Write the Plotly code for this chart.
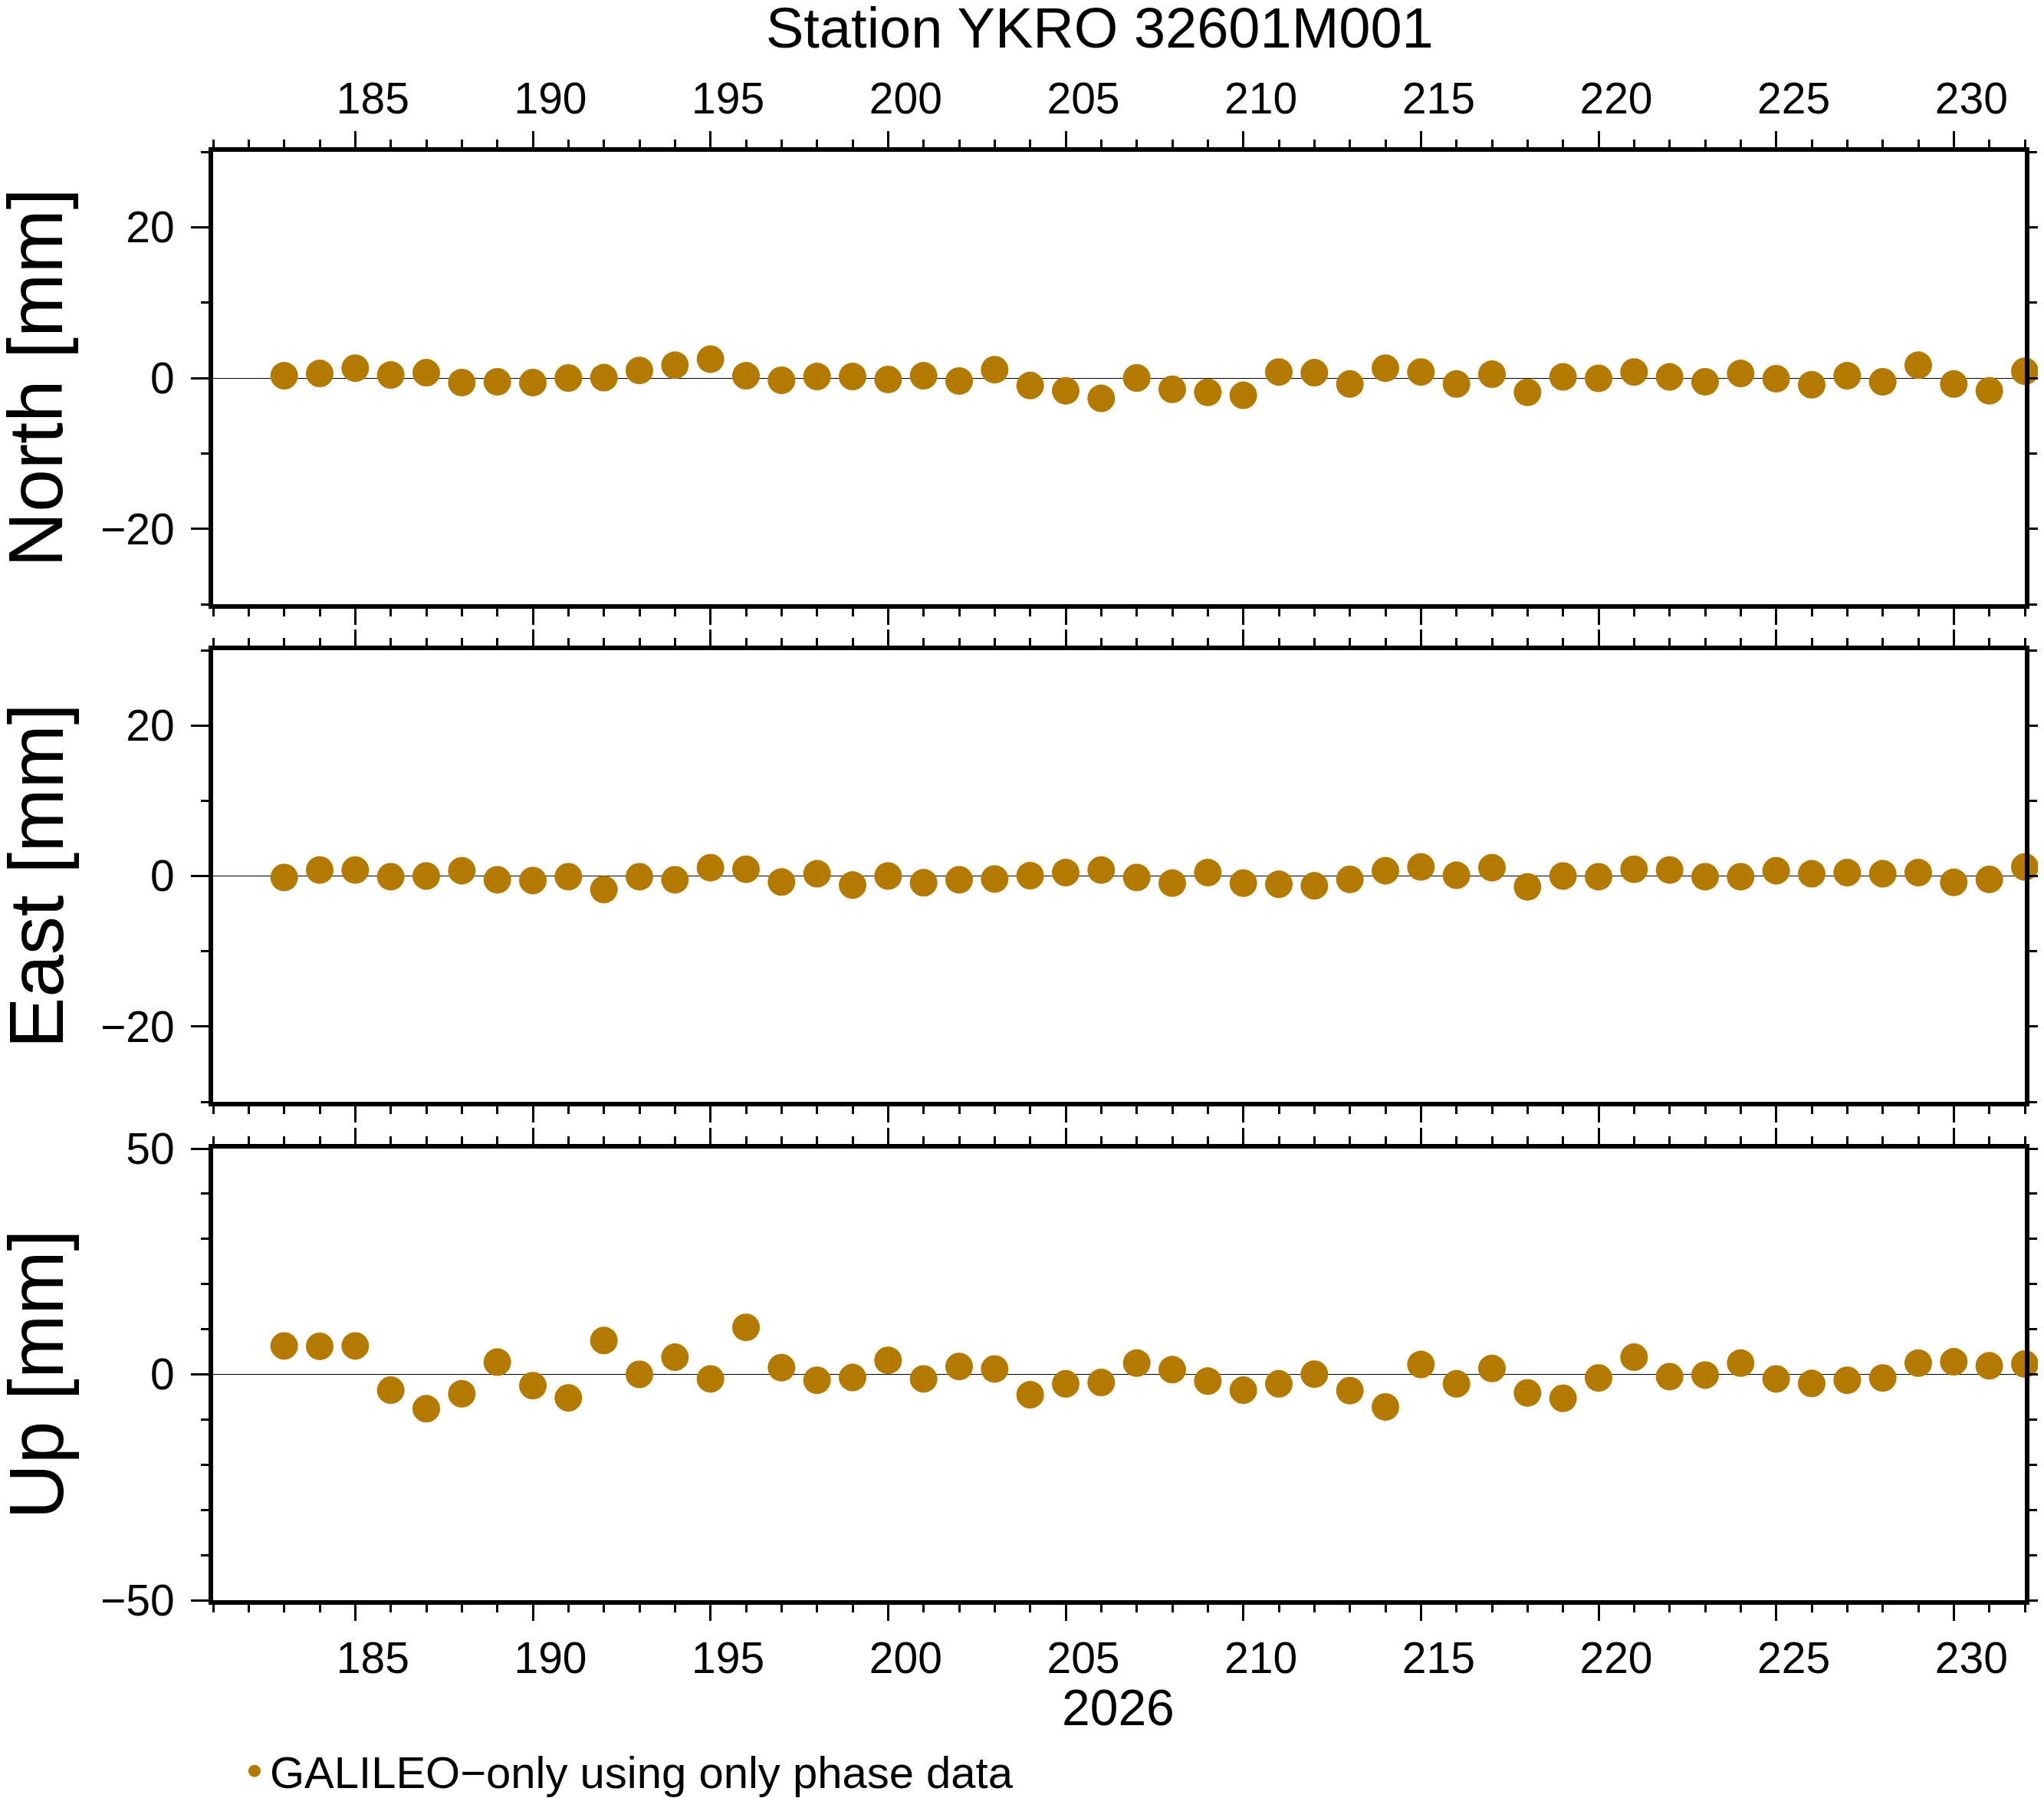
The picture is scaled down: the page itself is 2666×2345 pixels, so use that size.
import plotly.graph_objects as go

# day of year 2026, one daily solution each
days = list(range(183, 233))

north_mm = [0.3, 0.6, 1.3, 0.4, 0.7, -0.6, -0.5, -0.6, 0.0, 0.05,
            1.0, 1.7, 2.5, 0.3, -0.3, 0.2, 0.2, -0.2, 0.3, -0.4,
            1.1, -1.0, -1.7, -2.7, 0.0, -1.5, -1.9, -2.3, 0.8, 0.7,
            -0.8, 1.3, 0.8, -0.8, 0.5, -1.9, 0.15, -0.05, 0.8, 0.15,
            -0.5, 0.6, -0.1, -0.9, 0.3, -0.5, 1.7, -0.8, -1.7, 0.9]

east_mm = [-0.2, 0.8, 0.8, -0.1, 0.0, 0.7, -0.5, -0.6, -0.1, -1.8,
           -0.1, -0.5, 1.1, 0.9, -0.8, 0.3, -1.2, 0.0, -0.9, -0.5,
           -0.4, 0.05, 0.45, 0.8, -0.2, -0.95, 0.45, -0.95, -1.1, -1.3,
           -0.45, 0.7, 1.2, 0.1, 1.1, -1.45, 0.0, -0.1, 0.9, 0.8,
           -0.1, -0.1, 0.7, 0.3, 0.45, 0.3, 0.45, -0.85, -0.45, 1.2]

up_mm = [6.3, 6.2, 6.3, -3.5, -7.6, -4.3, 2.7, -2.5, -5.2, 7.5,
         0.0, 3.8, -1.0, 10.4, 1.5, -1.3, -0.7, 3.1, -1.0, 1.75,
         1.2, -4.5, -2.1, -1.8, 2.5, 1.05, -1.5, -3.5, -2.1, 0.05,
         -3.6, -7.2, 2.2, -2.1, 1.3, -4.1, -5.3, -0.8, 3.8, -0.5,
         -0.15, 2.5, -1.0, -2.0, -1.3, -0.8, 2.5, 2.8, 1.9, 2.3]

panels = [("North [mm]", north_mm, 30, 20),
          ("East [mm]", east_mm, 30, 20),
          ("Up [mm]", up_mm, 50, 50)]

# the page body keeps its default 8px margin, so the figure is drawn 8px smaller
# and every position below is given in window pixels
OFF = 8
W, H = 2666 - OFF, 2345 - OFF
FONT = "Liberation Sans, Arial, Helvetica, sans-serif"
DOT = "#b47a00"


def xp(px):
    return (px - OFF) / W


def yp(py):
    return 1 - (py - OFF) / H


x_dom = [xp(278), xp(2641)]
y_px = [(198, 788), (848, 1437), (1498, 2087)]

fig = go.Figure()

for i, (label, vals, lim, major) in enumerate(panels):
    n = "" if i == 0 else str(i + 1)
    top, bot = y_px[i]
    fig.add_trace(go.Scatter(
        x=days, y=vals, mode="markers",
        xaxis="x" + n, yaxis="y" + n,
        marker=dict(color=DOT, size=36, line=dict(width=0)),
        cliponaxis=False,
        name="GALILEO\u2212only using only phase data",
        showlegend=(i == 0),
    ))
    fig.update_layout({
        "xaxis" + n: dict(
            domain=x_dom, anchor="y" + n, range=[181, 232],
            side="top" if i == 0 else "bottom",
            showticklabels=(i != 1),
            tickmode="linear", tick0=185, dtick=5,
            ticks="outside", ticklen=21, tickwidth=3, tickcolor="black",
            minor=dict(dtick=1, ticks="outside", ticklen=10, tickwidth=3, tickcolor="black"),
            showline=True, linewidth=6, linecolor="black", mirror="ticks",
            showgrid=False, zeroline=False, automargin=False,
            tickfont=dict(size=57, color="black", family=FONT),
            ticklabelstandoff=0, ticklabelshift=23,
        ),
        "yaxis" + n: dict(
            domain=[yp(bot), yp(top)], anchor="x" + n,
            range=[-lim, lim],
            tickmode="linear", tick0=0, dtick=major,
            ticks="outside", ticklen=23, tickwidth=3, tickcolor="black",
            minor=dict(dtick=10, ticks="outside", ticklen=10, tickwidth=3, tickcolor="black"),
            showline=True, linewidth=6, linecolor="black", mirror="ticks",
            showgrid=False, zeroline=True, zerolinecolor="black", zerolinewidth=1.3,
            automargin=False,
            tickfont=dict(size=57, color="black", family=FONT),
            ticklabelstandoff=10,
        ),
    })
    fig.add_annotation(
        text=label, textangle=-90, showarrow=False,
        xref="paper", yref="paper", x=xp(46), y=yp((top + bot) / 2),
        xanchor="center", yanchor="middle",
        font=dict(size=100, color="black", family=FONT),
    )

fig.add_annotation(
    text="Station YKRO 32601M001", showarrow=False, xref="paper", yref="paper",
    x=xp(1434), y=yp(37), xanchor="center", yanchor="middle",
    font=dict(size=74, color="black", family=FONT),
)
fig.add_annotation(
    text="2026", showarrow=False, xref="paper", yref="paper",
    x=xp(1458), y=yp(2227), xanchor="center", yanchor="middle",
    font=dict(size=66, color="black", family=FONT),
)

fig.update_layout(
    width=W, height=H,
    margin=dict(l=0, r=0, t=0, b=0, autoexpand=False),
    paper_bgcolor="white", plot_bgcolor="white",
    showlegend=True,
    legend=dict(
        x=xp(312), y=yp(2310), xanchor="left", yanchor="middle",
        orientation="h", itemsizing="trace", borderwidth=0,
        font=dict(size=58, color="black", family=FONT),
        bgcolor="rgba(0,0,0,0)",
    ),
)

fig.write_html("out.html")
